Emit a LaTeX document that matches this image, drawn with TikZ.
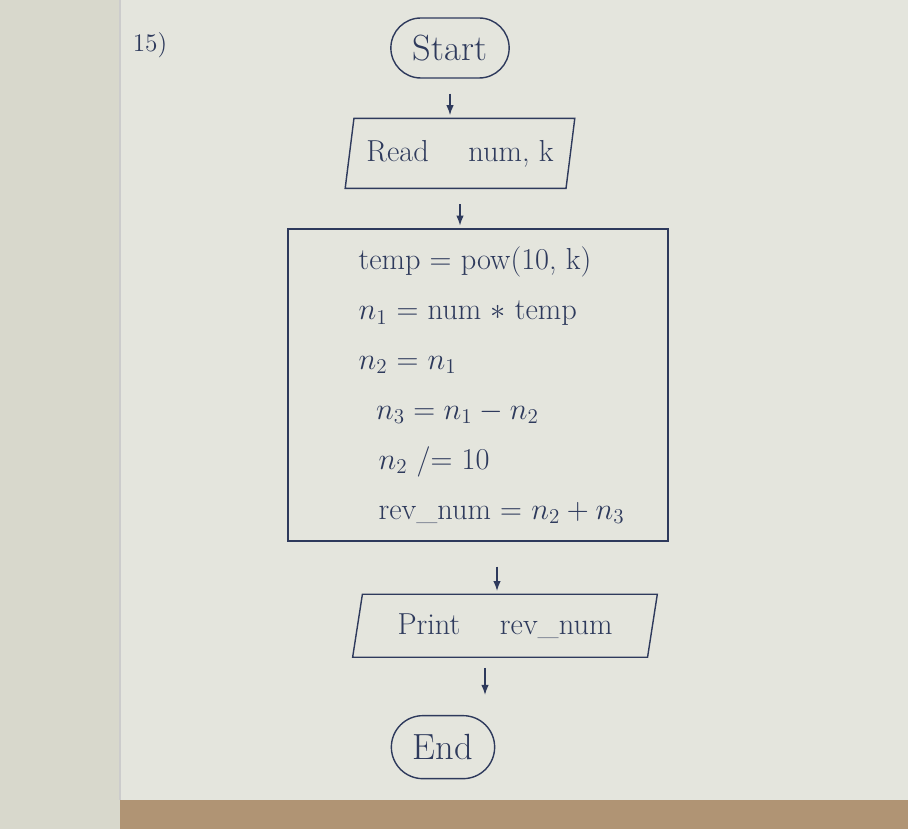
\documentclass[tikz,border=0pt]{standalone}
\usetikzlibrary{positioning, arrows.meta, shapes.geometric, shapes.misc}

\definecolor{ink}{HTML}{2E3A5C}
\definecolor{paper}{HTML}{E4E5DD}
\definecolor{margin}{HTML}{D8D8CC}
\definecolor{desk}{HTML}{B09474}

\begin{document}
\begin{tikzpicture}[>=latex, font=\LARGE,
	terminal/.style={draw=ink, thick, rounded rectangle, minimum height=1.2cm, minimum width=2.6cm, text=ink},
	iobox/.style={draw=ink, thick, trapezium, trapezium left angle=78, trapezium right angle=102, trapezium stretches=true, minimum height=1.4cm, text=ink},
	procbox/.style={draw=ink, thick, minimum width=7.6cm, minimum height=6.24cm},
	arrow/.style={-{Latex[length=2mm]}, thick, draw=ink, shorten <=0.3cm, shorten >=0.05cm}]

	% papel de fondo
	\useasboundingbox (0,0) rectangle (18.16,-16.58);
	\fill[paper] (0,0) rectangle (18.16,-16.58);
	\fill[margin] (0,0) rectangle (2.4,-16.58);
	\fill[desk] (2.4,-16.0) rectangle (18.16,-16.58);
	\draw[black!20, line width=1.5pt] (2.4,0) -- (2.4,-16.0);

	\node[text=ink, font=\Large] (qnum) at (3.0,-0.9) {15)};

	% Bloques
	\node[terminal, font=\huge] (start) at (9.0,-0.96) {Start};
	\node[iobox, minimum width=4.6cm, below=0.78cm of start, xshift=0.2cm] (read) {Read \quad num, k};
	\node[procbox, below=0.78cm of read, xshift=0.36cm] (proc) {};
	\node[below right=0.25cm and 1.3cm of proc.north west, anchor=north west, align=left, text=ink] (steps)
		{temp = pow(10, k)\\[0.225cm]
		 $n_1$ = num $*$ temp\\[0.225cm]
		 $n_2$ = $n_1$\\[0.225cm]
		 \hspace{0.35cm}$n_3 = n_1 - n_2$\\[0.225cm]
		 \hspace{0.4cm}$n_2$ /= 10\\[0.225cm]
		 \hspace{0.4cm}rev\_num = $n_2 + n_3$};
	\node[iobox, minimum width=6.1cm, minimum height=1.26cm, below=1.04cm of proc, xshift=0.54cm] (print) {Print \quad rev\_num};
	\node[terminal, font=\huge, minimum width=2.3cm, minimum height=1.26cm, below=1.14cm of print, xshift=-1.24cm] (end) {End};

	% Flechas
	\draw[arrow] (start.south) -- (start.south |- read.north);
	\draw[arrow] (read.south) -- (read.south |- proc.north);
	\draw[arrow, shorten <=0.5cm] ([xshift=-0.16cm]print.north |- proc.south) -- ([xshift=-0.16cm]print.north);
	\draw[arrow, shorten <=0.2cm, shorten >=0.4cm] ([xshift=-0.4cm]print.south) -- ([xshift=-0.4cm]print.south |- end.north);
\end{tikzpicture}
\end{document}
